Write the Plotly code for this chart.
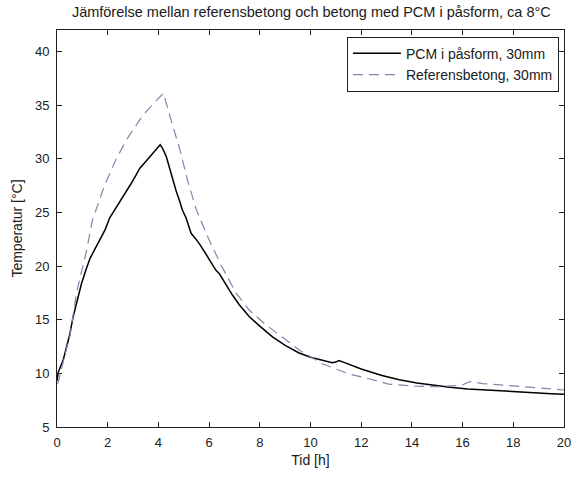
import plotly.graph_objects as go

# Measured temperature curves, ca 8°C ambient
t_pcm = [0, 0.05, 0.25, 0.5, 0.64, 0.8, 0.97, 1.15, 1.3, 1.5, 1.69, 1.9, 2.08, 2.3, 2.67, 2.9,
         3.1, 3.26, 3.45, 3.65, 3.85, 4.07, 4.16, 4.31, 4.45, 4.57, 4.7, 4.83, 4.95, 5.09, 5.16,
         5.29, 5.45, 5.62, 5.88, 6.1, 6.27, 6.4, 6.65, 6.92, 7.19, 7.58, 8.0, 8.5, 9.0, 9.55,
         10.0, 10.5, 10.86, 11.0, 11.12, 11.4, 12.0, 12.82, 13.5, 14.2, 14.79, 15.5, 16.2,
         16.75, 17.4, 18.0, 18.6, 19.0, 19.5, 20.0]
y_pcm = [9.3, 10.1, 11.3, 13.6, 15.3, 16.9, 18.4, 19.7, 20.7, 21.6, 22.4, 23.4, 24.5, 25.3, 26.7, 27.6,
         28.4, 29.1, 29.6, 30.2, 30.7, 31.3, 31.0, 30.2, 29.0, 27.9, 27.0, 26.1, 25.2, 24.5, 23.9,
         23.05, 22.6, 22.07, 21.1, 20.3, 19.6, 19.3, 18.3, 17.3, 16.4, 15.3, 14.4, 13.4, 12.6, 11.9,
         11.5, 11.2, 11.0, 11.05, 11.2, 10.95, 10.4, 9.8, 9.4, 9.1, 8.9, 8.7, 8.55,
         8.47, 8.35, 8.3, 8.2, 8.15, 8.1, 8.05]

t_ref = [0, 0.05, 0.3, 0.51, 0.77, 1.0, 1.17, 1.4, 1.89, 2.34, 2.8, 3.26, 3.52, 3.79, 4.0, 4.2,
         4.5, 4.83, 5.15, 5.49, 5.95, 6.47, 7.06, 7.58, 8.2, 8.89, 9.6, 10.46, 11.0, 11.51,
         12.3, 13.08, 14.13, 15.0, 15.97, 16.29, 16.8, 17.8, 19.0, 19.96, 20.0]
y_ref = [9.0, 9.2, 11.6, 13.5, 17.5, 19.8, 21.5, 24.3, 27.6, 30.0, 32.0, 33.6, 34.4, 35.1, 35.6, 36.1,
         33.6, 31.0, 28.0, 25.3, 22.7, 20.1, 17.5, 15.9, 14.6, 13.4, 12.1, 10.9, 10.4, 9.95,
         9.5, 9.0, 8.8, 8.75, 8.9, 9.24, 9.05, 8.87, 8.65, 8.47, 8.45]

x_ticks = list(range(0, 21, 2))
y_ticks = list(range(5, 41, 5))

FONT = "Liberation Sans, Arial, sans-serif"

fig = go.Figure()
fig.add_trace(go.Scatter(
    x=t_pcm, y=y_pcm, mode="lines", name="PCM i påsform, 30mm",
    line=dict(color="black", width=1.5),
))
fig.add_trace(go.Scatter(
    x=t_ref, y=y_ref, mode="lines", name="Referensbetong, 30mm",
    line=dict(color="rgb(132,132,172)", width=1.2, dash="10px,6px"),
))

axis_common = dict(
    showgrid=False, zeroline=False, showline=True, linecolor="#202020", linewidth=1,
    mirror="ticks", ticks="inside", ticklen=5, tickcolor="#202020", tickwidth=1,
    tickfont=dict(family=FONT, size=13, color="#202020"),
)

fig.update_layout(
    width=583, height=477,
    margin=dict(l=57, r=17, t=30, b=45),
    paper_bgcolor="white", plot_bgcolor="white",
    font=dict(family=FONT, color="#202020"),
    title=dict(
        text="Jämförelse mellan referensbetong och betong med PCM i påsform, ca 8°C",
        font=dict(family=FONT, size=14.5, color="#202020"),
        x=0.534, xanchor="center", y=0.974, yanchor="middle",
    ),
    xaxis=dict(
        range=[0, 20], tickvals=x_ticks,
        title=dict(text="Tid [h]", font=dict(family=FONT, size=14), standoff=6),
        ticklabelstandoff=3,
        **axis_common,
    ),
    yaxis=dict(
        range=[5, 42], tickvals=y_ticks,
        title=dict(text="Temperatur [°C]", font=dict(family=FONT, size=14), standoff=9),
        ticklabelstandoff=4,
        **axis_common,
    ),
    legend=dict(
        x=0.99, xanchor="right", y=0.983, yanchor="top",
        bgcolor="white", bordercolor="#202020", borderwidth=1,
        font=dict(family=FONT, size=14, color="#202020"),
        itemwidth=48,
    ),
    showlegend=True,
)

fig.write_html("out.html")
